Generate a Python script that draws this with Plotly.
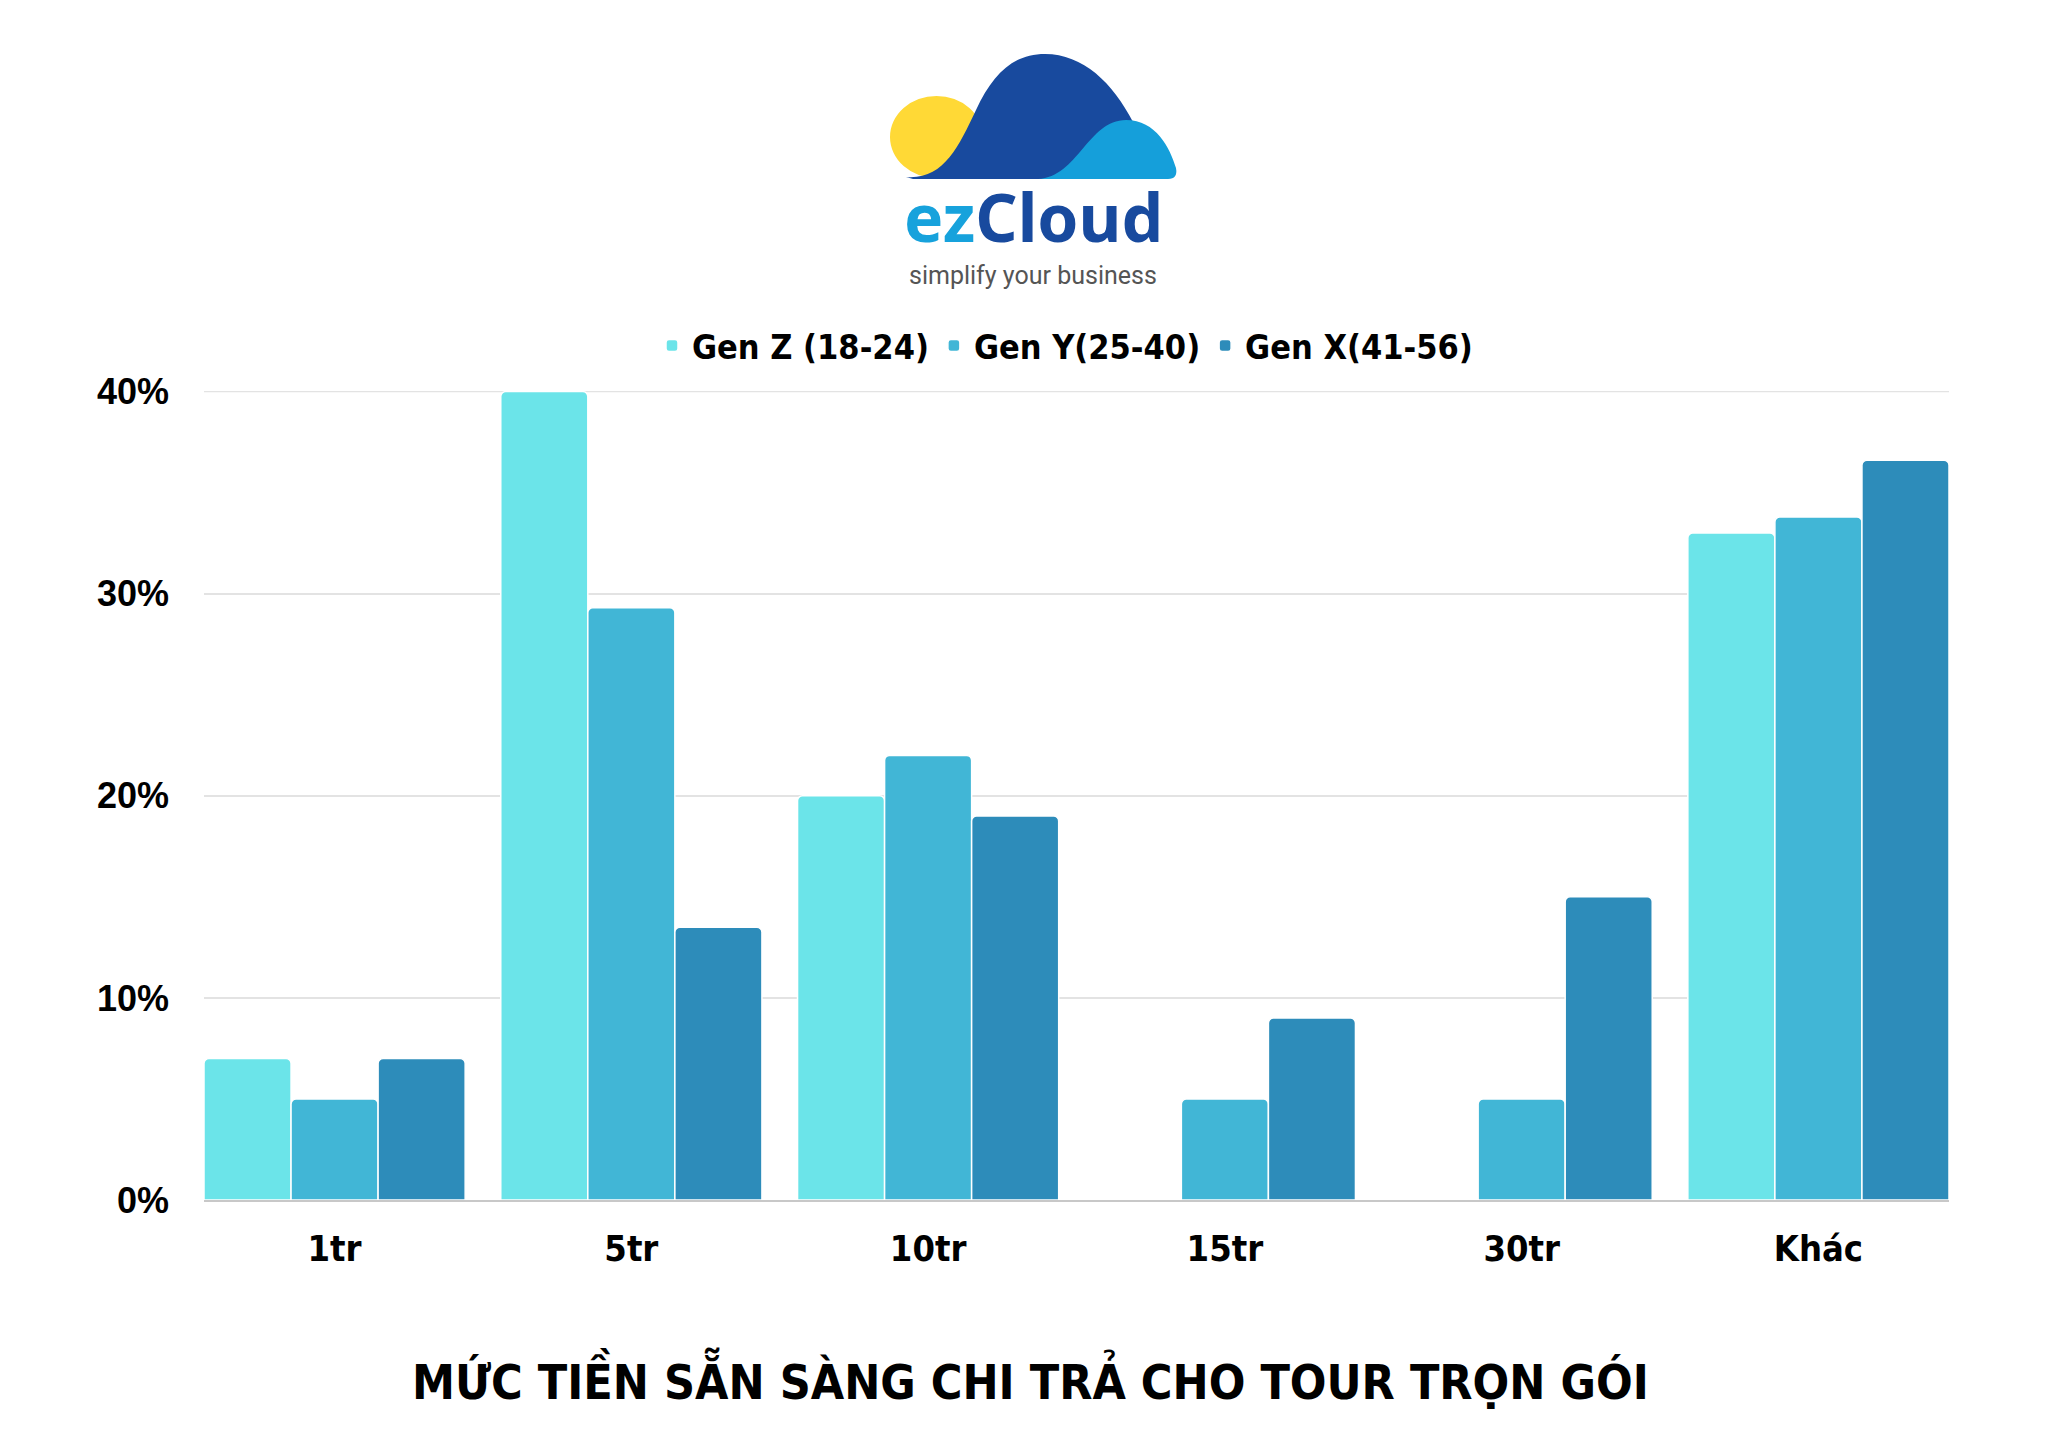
import plotly.graph_objects as go

categories = ["1tr", "5tr", "10tr", "15tr", "30tr", "Khác"]
gen_z = [7, 40, 20, 0, 0, 33.0]
gen_y = [5, 29.3, 22, 5, 5, 33.8]
gen_x = [7, 13.5, 19, 9, 15, 36.6]
series_names = ["Gen Z (18-24)", "Gen Y(25-40)", "Gen X(41-56)"]
colors = ["#6BE4E9", "#41B6D6", "#2D8CBA"]
y_tick_vals = [0, 10, 20, 30, 40]
y_tick_text = ["0%", "10%", "20%", "30%", "40%"]

W, H = 2048, 1451
L, R, T, B = 196, 107, 383, 259
PW, PH = W - L - R, H - T - B


def px(X):
    return (X - L) / PW


def py(Y):
    return (H - B - Y) / PH


def path(cmds):
    out = []
    for c in cmds:
        if isinstance(c, str):
            out.append(c)
        else:
            out.append(f"{px(c[0]):.5f},{py(c[1]):.5f}")
    return " ".join(out)


fig = go.Figure()
for name, vals, col in zip(series_names, [gen_z, gen_y, gen_x], colors):
    fig.add_trace(go.Bar(
        x=categories, y=vals, name=name,
        marker=dict(color=col, line=dict(color="white", width=1.5)),
    ))

shapes = []
# top gridline (plotly drops the grid line at the range edge)
shapes.append(dict(type="line", xref="paper", x0=0, x1=1, yref="y",
                   y0=y_tick_vals[-1], y1=y_tick_vals[-1],
                   line=dict(color="#e3e3e3", width=1.5), layer="below"))
# logo: yellow sun
shapes.append(dict(type="circle", xref="paper", yref="paper",
                   x0=px(882), x1=px(975), y0=py(170), y1=py(88),
                   fillcolor="#FFD936", line=dict(width=0), layer="above"))
# dark blue hill
dark = path(["M", (898, 169), "C", (935, 172), (950, 140), (968, 102),
             "C", (985, 66), (1005, 46), (1037, 46),
             "C", (1075, 46), (1105, 75), (1125, 114),
             "L", (1125, 171), "L", (905, 171), "Z"])
shapes.append(dict(type="path", xref="paper", yref="paper", path=dark,
                   fillcolor="#184A9E", line=dict(width=0), layer="above"))
# light blue hill
light = path(["M", (1030, 171), "C", (1070, 169), (1080, 112), (1118, 112),
              "C", (1148, 112), (1162, 140), (1168, 160),
              "Q", (1170, 171), (1160, 171), "Z"])
shapes.append(dict(type="path", xref="paper", yref="paper", path=light,
                   fillcolor="#159FDA", line=dict(width=0), layer="above"))

cond = "Liberation Sans Narrow, DejaVu Sans Condensed, sans-serif"
annotations = [
    dict(text="<span style='color:#17A2DC'>ez</span><span style='color:#184A9E'>Cloud</span>",
         x=px(1025), y=py(208), xref="paper", yref="paper", showarrow=False,
         xanchor="center", yanchor="middle",
         font=dict(family="Noto Sans", size=66, weight="bold")),
    dict(text="simplify your business", x=px(1025), y=py(267), xref="paper", yref="paper",
         showarrow=False, xanchor="center", yanchor="middle",
         font=dict(family="Roboto", size=25, color="#555555")),
    dict(text="MỨC TIỀN SẴN SÀNG CHI TRẢ CHO TOUR TRỌN GÓI", x=px(1022), y=py(1370),
         xref="paper", yref="paper", showarrow=False, xanchor="center", yanchor="middle",
         font=dict(family=cond, size=48, weight="bold", color="#000000")),
]

fig.update_layout(
    width=W, height=H,
    margin=dict(l=L, r=R, t=T, b=B, autoexpand=False),
    paper_bgcolor="white", plot_bgcolor="white",
    barmode="group", bargap=0.12, bargroupgap=0, barcornerradius=5,
    legend=dict(orientation="h", x=px(1057), xanchor="center", y=py(338), yanchor="middle",
                font=dict(family=cond, size=34, weight="bold", color="#000000"),
                itemwidth=30, tracegroupgap=0),
    xaxis=dict(range=[-0.44, 5.44], showline=True, linecolor="#c8c8c8", linewidth=2, ticks="",
               tickfont=dict(family=cond, size=36, weight="bold", color="#000000"),
               ticklabelstandoff=16),
    yaxis=dict(range=[0, 40.03], tickvals=y_tick_vals, ticktext=y_tick_text, showgrid=True,
               gridcolor="#e3e3e3", gridwidth=1.5, zeroline=False,
               tickfont=dict(family="Liberation Sans", size=36, weight="bold", color="#000000"),
               ticklabelstandoff=34),
    shapes=shapes, annotations=annotations,
)

fig.write_html("out.html")
